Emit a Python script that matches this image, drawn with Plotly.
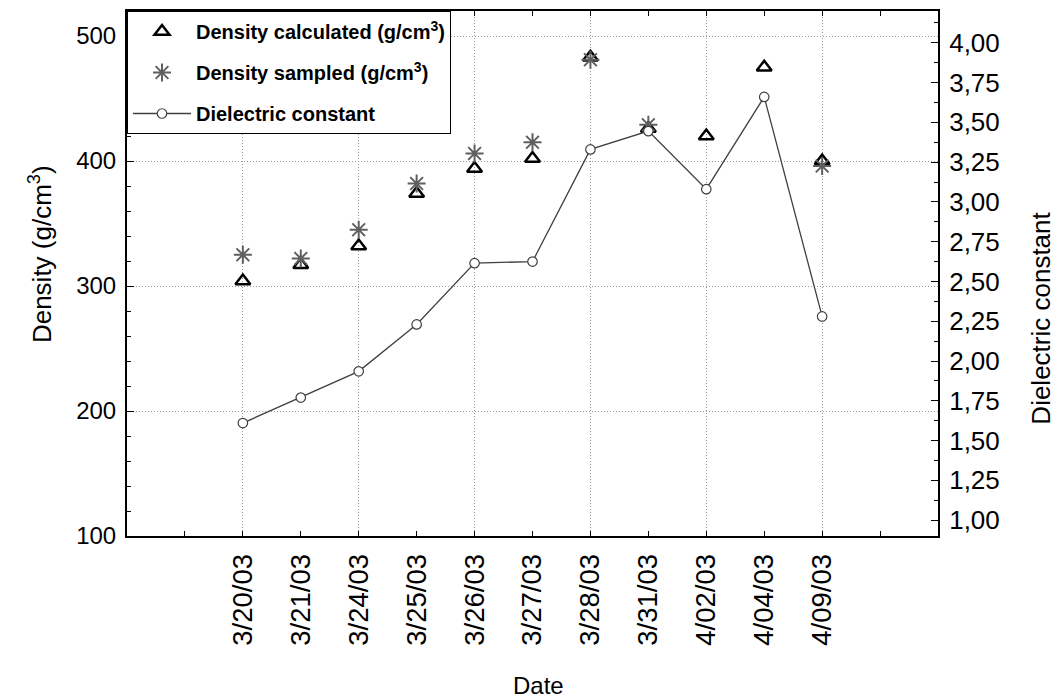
import plotly.graph_objects as go

dates = ["3/20/03", "3/21/03", "3/24/03", "3/25/03", "3/26/03", "3/27/03",
         "3/28/03", "3/31/03", "4/02/03", "4/04/03", "4/09/03"]
density_calc = [304, 317, 332, 374, 394, 402, 483, 426, 420, 475, 400]
density_sampled = [325, 322, 345, 382, 406, 415, 481, 429, None, None, 396]
dielectric = [1.61, 1.77, 1.935, 2.23, 2.615, 2.625, 3.33, 3.445, 3.08, 3.66, 2.28]

left_ticks = [100, 200, 300, 400, 500]
right_ticks = [1.0, 1.25, 1.5, 1.75, 2.0, 2.25, 2.5, 2.75, 3.0, 3.25, 3.5, 3.75, 4.0]

idx = list(range(len(dates)))
FONT = "Liberation Sans, Arial, sans-serif"

fig = go.Figure()
fig.add_trace(go.Scatter(
    x=idx, y=density_calc, mode="markers", name="Density calculated (g/cm<sup>3</sup>)",
    legendgroup="a",
    marker=dict(symbol="triangle-up-open", size=13, color="black", line=dict(width=2.5, color="black")),
    yaxis="y"))
fig.add_trace(go.Scatter(
    x=idx, y=density_sampled, mode="markers", name="Density sampled (g/cm<sup>3</sup>)",
    legendgroup="b",
    marker=dict(symbol="asterisk-open", size=15, color="#5f5f5f", line=dict(width=2, color="#5f5f5f")),
    yaxis="y"))
fig.add_trace(go.Scatter(
    x=idx, y=dielectric, mode="lines+markers", name="Dielectric constant",
    legendgroup="c",
    line=dict(color="#404040", width=1.3),
    marker=dict(symbol="circle", size=9.5, color="white", line=dict(width=1.2, color="#404040")),
    yaxis="y2"))
# empty trace for the grid overlay axis
fig.add_trace(go.Scatter(x=[None], y=[None], xaxis="x3", yaxis="y", showlegend=False, hoverinfo="skip"))

tick_font = dict(family=FONT, size=24, color="black")
xtick_font = dict(family=FONT, size=27.5, color="black")
GRID = "#9a9a9a"
DASH = "1px,2px"

all_x = list(range(-2, 13))
fig.update_layout(
    width=1059, height=700,
    margin=dict(l=119, r=129, t=1, b=172),
    plot_bgcolor="white", paper_bgcolor="white",
    separators=", ",
    font=dict(family=FONT, color="black"),
    xaxis=dict(
        range=[-2, 12], tickmode="array", tickvals=all_x,
        ticktext=[dates[i] if 0 <= i < len(dates) else "" for i in all_x],
        tickangle=-90, ticks="inside", ticklen=5, tickcolor="black", tickwidth=1,
        showline=True, linecolor="black", linewidth=2, mirror="ticks",
        showgrid=False, zeroline=False, tickfont=xtick_font, ticklabelstandoff=5,
    ),
    xaxis3=dict(
        range=[-2, 12], overlaying="x", anchor="y", tickmode="array",
        tickvals=[0, 2, 4, 6, 8, 10], showticklabels=False, ticks="",
        showgrid=True, gridcolor=GRID, griddash=DASH, gridwidth=1,
        showline=False, zeroline=False,
    ),
    yaxis=dict(
        range=[100, 520], tickmode="array", tickvals=left_ticks,
        ticks="inside", ticklen=7, tickcolor="black",
        minor=dict(dtick=20, tick0=100, ticks="inside", ticklen=4, tickcolor="black", showgrid=False),
        showline=True, linecolor="black", linewidth=2, mirror=True,
        showgrid=True, gridcolor=GRID, griddash=DASH, gridwidth=1,
        zeroline=False, tickfont=tick_font, ticklabelstandoff=4,
    ),
    yaxis2=dict(
        range=[0.9, 4.2], overlaying="y", side="right", anchor="x",
        tickmode="array", tickvals=right_ticks, tickformat=".2f",
        ticks="inside", ticklen=7, tickcolor="black",
        minor=dict(dtick=0.125, tick0=1, ticks="inside", ticklen=4, tickcolor="black", showgrid=False),
        showline=True, linecolor="black", linewidth=2,
        showgrid=False, zeroline=False, tickfont=dict(family=FONT, size=26, color="black"),
        ticklabelstandoff=4,
    ),
    legend=dict(
        x=0, y=1, xanchor="left", yanchor="top",
        bgcolor="white", bordercolor="black", borderwidth=1,
        font=dict(family=FONT, size=20, color="black", weight="bold"),
        traceorder="grouped", tracegroupgap=12, itemwidth=58,
    ),
    showlegend=True,
    annotations=[
        dict(text="Density (g/cm<sup>3</sup>)", textangle=-90, xref="paper", yref="paper",
             x=0, y=0.537, xanchor="center", yanchor="middle", xshift=-87, showarrow=False,
             font=dict(family=FONT, size=26, color="black")),
        dict(text="Dielectric constant", textangle=-90, xref="paper", yref="paper",
             x=1, y=0.414, xanchor="center", yanchor="middle", xshift=103, showarrow=False,
             font=dict(family=FONT, size=26, color="black")),
        dict(text="Date", xref="paper", yref="paper",
             x=0.5, y=0, xanchor="center", yanchor="middle", xshift=6, yshift=-149, showarrow=False,
             font=dict(family=FONT, size=24, color="black")),
    ],
)

fig.write_html("out.html")
